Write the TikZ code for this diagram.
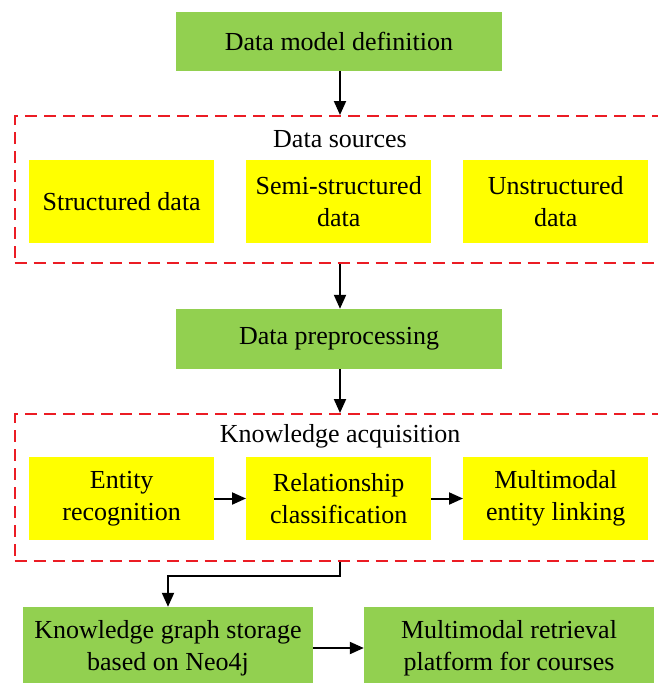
\documentclass[tikz,border=0pt]{standalone}
\usepackage{fontspec}
\setmainfont{Liberation Serif}
\usetikzlibrary{arrows.meta}
\definecolor{boxgreen}{RGB}{146,208,80}
\definecolor{boxyellow}{RGB}{255,255,0}
\definecolor{dashred}{RGB}{235,28,36}
\begin{document}
\begin{tikzpicture}[x=1pt,y=-1pt]
  \tikzstyle{every node}=[font=\fontsize{26}{32}\selectfont, align=center, inner sep=0pt]
  \tikzstyle{greenbox}=[fill=boxgreen, minimum height=59pt]
  \tikzstyle{yellowbox}=[fill=boxyellow, minimum width=185pt, minimum height=83pt]
  \tikzstyle{frame}=[draw=dashred, line width=2pt, dash pattern=on 12pt off 7pt, minimum width=650pt, minimum height=147pt]
  \tikzstyle{flow}=[-{Triangle[length=14pt,width=12pt]}, line width=2pt]
 \useasboundingbox (0,0) rectangle (657,683);

 \node[greenbox, minimum width=326pt] (model) at (339, 41.5) {Data model definition};
 \node[frame] (sources) at (339.7, 189.5) {};
 \node (srclabel) at (340, 139) {Data sources};
 \node[yellowbox] (struct) at (121.7, 201.5) {Structured data};
 \node[yellowbox] (semi) at (338.7, 201.5) {Semi-structured\\data};
 \node[yellowbox] (unstruct) at (555.7, 201.5) {Unstructured\\data};

 \node[greenbox, minimum width=326pt, minimum height=60pt] (prep) at (339, 339) {Data preprocessing};
 \node[frame] (acq) at (339.7, 487.5) {};
 \node (acqlabel) at (340, 436) {Knowledge acquisition};
 \node[yellowbox] (entity) at (121.7, 498.5) {Entity\\recognition};
 \node[yellowbox] (relation) at (338.7, 498.5) {Relationship\\classification};
 \node[yellowbox] (linking) at (555.7, 498.5) {Multimodal\\entity linking};

 \node[greenbox, minimum width=290pt, minimum height=82pt] (storage) at (168, 648) {Knowledge graph storage\\based on Neo4j};
 \node[greenbox, minimum width=290pt, minimum height=82pt] (platform) at (509, 648) {Multimodal retrieval\\platform for courses};

 \draw [flow] (model.south -| 340,0) -- (sources.north -| 340,0);
 \draw [flow] (sources.south -| 340,0) -- (prep.north -| 340,0);
 \draw [flow] (prep.south -| 340,0) -- (acq.north -| 340,0);
 \draw [flow] (entity) -- (relation);
 \draw [flow] (relation) -- (linking);
 \draw [flow] (acq.south -| 340,0) -- (340, 576) -| (storage.north);
 \draw [flow] (storage) -- (platform);

\end{tikzpicture}
\end{document}
